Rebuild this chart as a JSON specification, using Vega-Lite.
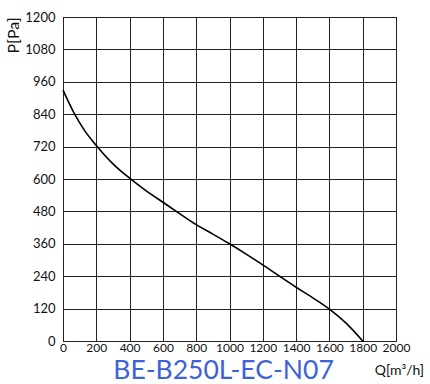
{
  "$schema": "https://vega.github.io/schema/vega-lite/v6.json",
  "width": 333,
  "height": 324,
  "autosize": {"type": "none"},
  "padding": {"left": 63, "top": 17, "right": 34, "bottom": 43},
  "background": "white",
  "title": {"text": "BE-B250L-EC-N07", "orient": "bottom", "anchor": "middle", "frame": "group", "color": "#3d62d9", "font": "Lato", "fontSize": 26.5, "fontWeight": "normal", "dx": -6, "dy": -19.5, "offset": 0},
  "config": {
    "view": {"stroke": "#222", "strokeWidth": 1},
    "axis": {"labelFont": "Lato", "titleFont": "Lato", "labelColor": "#111", "titleColor": "#111", "labelFontSize": 13, "titleFontWeight": "normal", "gridColor": "#222", "gridOpacity": 1, "gridWidth": 1, "ticks": false, "domainColor": "#222", "format": "d"}
  },
  "data": {"values": [
    {"q": 0, "p": 929},
    {"q": 70, "p": 840},
    {"q": 130, "p": 779},
    {"q": 200, "p": 724},
    {"q": 300, "p": 656},
    {"q": 400, "p": 603},
    {"q": 500, "p": 556},
    {"q": 600, "p": 514},
    {"q": 700, "p": 472},
    {"q": 800, "p": 431},
    {"q": 900, "p": 396},
    {"q": 1000, "p": 360},
    {"q": 1100, "p": 322},
    {"q": 1200, "p": 282},
    {"q": 1300, "p": 240},
    {"q": 1400, "p": 199},
    {"q": 1500, "p": 160},
    {"q": 1600, "p": 118},
    {"q": 1700, "p": 66},
    {"q": 1800, "p": 0}
  ]},
  "mark": {"type": "line", "color": "#000", "strokeWidth": 1.6, "interpolate": "monotone"},
  "encoding": {
    "x": {"field": "q", "type": "quantitative", "scale": {"domain": [0, 2000], "nice": false},
      "axis": {"values": [0,200,400,600,800,1000,1200,1400,1600,1800,2000], "labelPadding": 1, "labelFontSize": 12, "labelFlush": false,
        "title": "Q[m³/h]", "titleFontSize": 14, "titleX": 336, "titleY": 29, "titleAlign": "center", "titleBaseline": "middle"}},
    "y": {"field": "p", "type": "quantitative", "scale": {"domain": [0, 1200], "nice": false},
      "axis": {"values": [0,120,240,360,480,600,720,840,960,1080,1200], "labelPadding": 8, "labelFlush": false,
        "title": "P[Pa]", "titleFontSize": 16, "titleAngle": 270, "titleX": -50, "titleY": 18, "titleAlign": "center", "titleBaseline": "middle"}}
  }
}
